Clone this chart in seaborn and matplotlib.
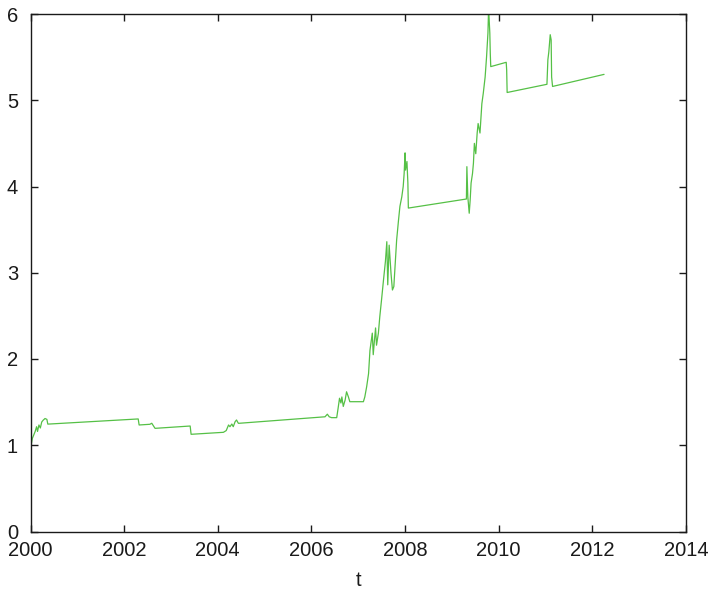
import matplotlib
matplotlib.use("Agg")
import matplotlib.pyplot as plt
import seaborn as sns
import pandas as pd

# time (decimal years) and value of the series
t = [
    2000.00, 2000.01, 2000.02, 2000.04, 2000.10, 2000.13, 2000.15, 2000.18, 2000.21,
    2000.24, 2000.27, 2000.31, 2000.35, 2000.37,
    2002.30, 2002.32, 2002.55, 2002.59, 2002.66,
    2003.41, 2003.43, 2004.12, 2004.18, 2004.23, 2004.26, 2004.30, 2004.33,
    2004.37, 2004.40, 2004.44,
    2006.29, 2006.34, 2006.38, 2006.43, 2006.54, 2006.57, 2006.60, 2006.63,
    2006.65, 2006.68, 2006.72, 2006.75, 2006.79, 2006.82,
    2007.11, 2007.14, 2007.18, 2007.22, 2007.25, 2007.27, 2007.30, 2007.32,
    2007.34, 2007.37, 2007.39, 2007.43, 2007.46, 2007.50, 2007.54, 2007.58,
    2007.61, 2007.63, 2007.66, 2007.70, 2007.73, 2007.76, 2007.79, 2007.82,
    2007.86, 2007.89, 2007.93, 2007.96, 2007.98, 2008.00, 2008.01, 2008.04,
    2008.06, 2008.07,
    2009.31, 2009.32, 2009.34, 2009.37, 2009.39, 2009.41, 2009.44, 2009.46,
    2009.48, 2009.51, 2009.54, 2009.56, 2009.60, 2009.64, 2009.67, 2009.71,
    2009.74, 2009.77, 2009.78, 2009.79, 2009.81, 2009.82, 2009.83,
    2010.16, 2010.17, 2010.18,
    2011.03, 2011.05, 2011.07, 2011.10, 2011.12, 2011.13, 2011.15,
    2012.25,
]
value = [
    1.10, 0.99, 1.02, 1.08, 1.16, 1.215, 1.16, 1.235, 1.20,
    1.27, 1.29, 1.31, 1.30, 1.245,
    1.305, 1.235, 1.243, 1.255, 1.196,
    1.223, 1.127, 1.15, 1.17, 1.235, 1.215, 1.246, 1.215,
    1.273, 1.293, 1.254,
    1.33, 1.36, 1.33, 1.32, 1.32, 1.43, 1.545, 1.49,
    1.56, 1.45, 1.525, 1.62, 1.56, 1.505,
    1.505, 1.56, 1.68, 1.83, 2.10, 2.18, 2.30, 2.05,
    2.18, 2.36, 2.16, 2.30, 2.49, 2.70, 2.92, 3.13,
    3.36, 2.86, 3.32, 2.99, 2.80, 2.84, 3.11, 3.38,
    3.61, 3.77, 3.88, 4.00, 4.15, 4.39, 4.19, 4.29,
    4.04, 3.75,
    3.855, 4.23, 3.88, 3.69, 3.84, 4.04, 4.15, 4.27,
    4.50, 4.38, 4.62, 4.73, 4.62, 4.96, 5.08, 5.27,
    5.50, 5.78, 5.99, 6.00, 5.78, 5.54, 5.39,
    5.44, 5.35, 5.09,
    5.185, 5.47, 5.56, 5.76, 5.70, 5.27, 5.16,
    5.30,
]

x_ticks = [2000, 2002, 2004, 2006, 2008, 2010, 2012, 2014]
y_ticks = [0, 1, 2, 3, 4, 5, 6]

df = pd.DataFrame({"t": t, "value": value})

sns.set_style("ticks")
plt.rcParams["font.family"] = ["Liberation Sans", "DejaVu Sans"]

fig = plt.figure(figsize=(7.15, 5.93), dpi=100)
ax = fig.add_axes([30.5 / 715, 1 - 531.5 / 593, (686 - 30.5) / 715, (531.5 - 14) / 593])

sns.lineplot(data=df, x="t", y="value", ax=ax, color="#55c046",
             linewidth=0.9, sort=False, estimator=None)

ax.set_xlim(2000, 2014)
ax.set_ylim(0, 6)
ax.set_xticks(x_ticks)
ax.set_yticks(y_ticks)
ax.set_xticklabels([str(v) for v in x_ticks])
ax.set_yticklabels([str(v) for v in y_ticks])
ax.tick_params(direction="in", length=5, width=1, top=True, right=True,
               labelsize=14.5, colors="#1a1a1a", pad=9)
ax.tick_params(axis="x", pad=7)
for s in ax.spines.values():
    s.set_visible(True)
    s.set_linewidth(1.0)
    s.set_color("#1a1a1a")

ax.set_xlabel("t", fontsize=14.5, color="#1a1a1a", labelpad=8)
ax.set_ylabel("")

fig.savefig("out.png", dpi=100)
